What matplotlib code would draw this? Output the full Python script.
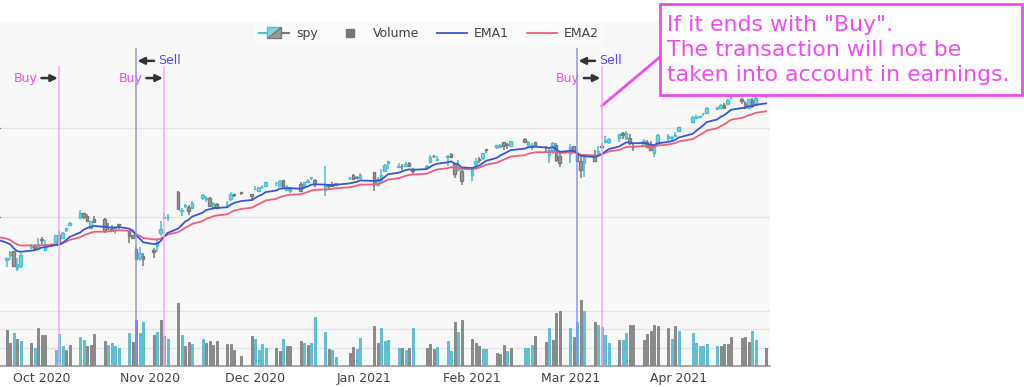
import matplotlib
matplotlib.use("Agg")
import matplotlib.pyplot as plt
import matplotlib.dates as mdates
import matplotlib.transforms as mtransforms
from matplotlib.legend_handler import HandlerBase
from matplotlib.lines import Line2D
from matplotlib.patches import Polygon, Rectangle
import numpy as np
import pandas as pd

plt.rcParams['font.family'] = ['DejaVu Sans']

# trading days shown on the chart
dates = (["2020-09-%02d" % d for d in (21, 22, 23, 24, 25, 28, 29, 30)]
         + ["2020-10-%02d" % d for d in (1, 2, 5, 6, 7, 8, 9, 12, 13, 14, 15, 16, 19, 20, 21, 22, 23, 26, 27, 28, 29, 30)]
         + ["2020-11-%02d" % d for d in (2, 3, 4, 5, 6, 9, 10, 11, 12, 13, 16, 17, 18, 19, 20, 23, 24, 25, 27, 30)]
         + ["2020-12-%02d" % d for d in (1, 2, 3, 4, 7, 8, 9, 10, 11, 14, 15, 16, 17, 18, 21, 22, 23, 24, 28, 29, 30, 31)]
         + ["2021-01-%02d" % d for d in (4, 5, 6, 7, 8, 11, 12, 13, 14, 15, 19, 20, 21, 22, 25, 26, 27, 28, 29)]
         + ["2021-02-%02d" % d for d in (1, 2, 3, 4, 5, 8, 9, 10, 11, 12, 16, 17, 18, 19, 22, 23, 24, 25, 26)]
         + ["2021-03-%02d" % d for d in (1, 2, 3, 4, 5, 8, 9, 10, 11, 12, 15, 16, 17, 18, 19, 22, 23, 24, 25, 26, 29, 30, 31)]
         + ["2021-04-%02d" % d for d in (1, 5, 6, 7, 8, 9, 12, 13, 14, 15, 16, 19, 20, 21, 22, 23, 26)])

opens = [325.70, 328.57, 330.90, 321.22, 322.58, 333.22, 333.97, 333.09,
         337.69, 331.70, 336.06, 339.91, 338.12, 342.85, 345.56, 349.59, 352.28, 350.75, 343.71,
         348.96, 348.65, 343.46, 343.33, 342.96, 345.93, 342.13, 339.76, 332.10, 326.91, 328.28,
         331.32, 333.69, 340.86, 349.24, 349.93, 363.97, 353.49, 356.40, 355.58, 355.27,
         360.98, 359.97, 360.91, 355.60, 357.50, 357.28, 360.21, 363.13, 363.84, 362.83,
         365.57, 364.82, 366.68, 367.32, 369.02, 367.72, 370.88, 365.37, 364.90, 368.64, 367.40,
         369.82, 371.94, 370.97, 364.97, 368.21, 368.28, 368.08, 371.74, 373.81, 372.34, 371.78,
         375.31, 368.10, 369.71, 376.10, 380.59, 377.85, 378.89, 378.69, 380.59, 376.72,
         378.34, 381.11, 384.49, 382.25, 383.67, 385.41, 380.22, 376.36, 375.63,
         373.72, 379.65, 382.44, 382.96, 388.20, 389.27, 389.61, 392.12, 391.24, 389.85,
         393.96, 390.42, 389.59, 392.07, 387.06, 384.66, 386.33, 390.41, 384.35,
         385.59, 389.82, 385.79, 381.22, 380.46, 384.66, 385.85, 389.69, 392.23, 392.07, 394.33, 397.07,
         394.53, 394.48, 389.88, 390.03, 391.91, 391.00, 385.98, 390.93, 394.40, 394.42, 395.34,
         398.40, 403.46, 405.76, 405.94, 408.39, 408.39, 410.85, 411.53, 412.83,
         413.74, 417.25, 416.26, 413.91, 411.51, 415.89, 412.87, 417.44]
highs = [327.13, 330.90, 331.20, 326.80, 329.58, 334.96, 334.77, 338.29,
         338.74, 337.01, 339.96, 342.17, 341.63, 343.85, 347.35, 354.02, 352.47, 351.93, 348.02,
         350.75, 349.33, 346.88, 345.67, 345.24, 345.99, 342.98, 340.12, 332.84, 333.40, 329.69,
         332.36, 338.25, 347.94, 352.19, 351.51, 364.38, 355.18, 357.56, 356.72, 358.90,
         362.78, 361.92, 361.50, 358.18, 357.72, 358.82, 363.81, 363.16, 364.18, 363.12,
         367.68, 366.96, 368.19, 369.85, 369.62, 370.78, 371.05, 367.86, 366.74, 369.80, 369.59,
         371.16, 372.46, 371.15, 378.46, 368.33, 369.62, 369.03, 372.59, 374.00, 373.10, 374.66,
         375.45, 372.50, 376.98, 379.90, 381.49, 380.58, 379.86, 380.86, 381.13, 377.58,
         379.23, 384.79, 384.95, 384.13, 384.77, 385.85, 380.32, 381.93, 376.67,
         377.34, 383.22, 383.70, 386.24, 388.47, 390.56, 390.89, 392.28, 391.69, 392.90,
         394.17, 392.66, 391.52, 392.38, 390.11, 388.76, 392.23, 391.88, 385.58,
         390.92, 390.07, 386.83, 384.00, 384.76, 387.68, 389.91, 391.40, 395.65, 394.21, 396.69, 397.83,
         398.12, 396.72, 391.57, 394.07, 393.46, 392.75, 390.55, 396.41, 396.75, 395.45, 398.00,
         400.67, 406.94, 407.24, 406.96, 408.58, 411.67, 411.93, 413.53, 413.96,
         416.16, 417.91, 416.74, 415.09, 416.29, 416.78, 418.25, 418.22]
lows = [321.73, 325.86, 322.10, 319.80, 321.64, 332.15, 331.63, 332.88,
        335.01, 331.19, 336.01, 334.38, 338.12, 341.86, 344.89, 349.06, 349.09, 347.14, 343.13,
        347.10, 341.04, 342.64, 342.40, 340.65, 343.13, 335.62, 337.99, 326.13, 325.09, 322.60,
        327.24, 330.29, 339.59, 348.86, 347.65, 354.06, 350.51, 355.06, 351.26, 354.71,
        359.59, 358.34, 356.24, 354.15, 355.25, 354.87, 359.29, 361.20, 362.58, 359.17,
        364.93, 364.20, 365.50, 367.22, 367.72, 367.67, 365.95, 364.43, 363.26, 364.47, 365.92,
        368.87, 371.05, 367.02, 362.03, 366.03, 367.22, 367.45, 371.07, 370.83, 371.57, 371.23,
        364.82, 368.05, 369.12, 375.91, 377.10, 377.72, 376.36, 377.85, 378.10, 373.70,
        376.75, 380.69, 383.25, 381.84, 378.46, 383.54, 372.01, 375.89, 368.27,
        370.38, 376.32, 380.48, 381.97, 386.14, 388.35, 389.17, 387.50, 388.10, 389.77,
        391.53, 389.33, 387.74, 389.55, 386.86, 380.20, 385.27, 380.78, 378.23,
        380.57, 386.00, 381.31, 371.88, 372.64, 381.42, 385.31, 388.17, 391.74, 391.20, 392.03, 394.11,
        393.30, 390.75, 387.15, 389.97, 388.66, 387.47, 383.90, 390.29, 392.81, 392.87, 395.31,
        398.18, 403.38, 405.40, 405.45, 406.93, 408.26, 410.20, 411.12, 410.87,
        413.69, 415.73, 413.79, 410.59, 411.36, 411.13, 412.79, 416.81]
closes = [326.97, 330.30, 322.64, 323.50, 328.73, 334.19, 332.37, 334.89,
          337.04, 333.84, 339.76, 334.93, 340.76, 343.78, 346.85, 352.43, 350.13, 347.93, 347.50,
          347.29, 342.01, 343.38, 342.73, 344.61, 345.78, 339.39, 338.22, 326.66, 329.98, 326.54,
          330.20, 336.03, 343.54, 350.24, 350.16, 354.56, 354.04, 356.67, 353.21, 358.10,
          362.57, 360.62, 356.28, 357.78, 355.33, 357.46, 363.22, 362.66, 363.67, 362.06,
          366.02, 366.79, 366.69, 369.85, 369.09, 370.17, 366.85, 366.73, 366.30, 364.66, 369.59,
          370.17, 372.24, 369.18, 367.86, 367.24, 367.57, 369.00, 372.17, 371.46, 371.99, 373.88,
          368.79, 371.33, 373.55, 379.10, 381.26, 378.69, 378.77, 379.79, 378.46, 375.70,
          378.65, 383.89, 384.24, 382.88, 384.39, 383.79, 374.41, 377.63, 370.07,
          376.23, 381.55, 381.85, 386.19, 387.71, 390.51, 390.25, 390.08, 390.71, 392.64,
          392.30, 392.39, 390.72, 390.03, 387.03, 387.50, 391.77, 382.33, 380.36,
          389.58, 386.54, 381.42, 376.70, 383.63, 381.72, 387.17, 389.58, 393.53, 394.06, 396.41, 395.91,
          397.26, 391.48, 389.48, 392.59, 389.50, 387.52, 389.70, 395.98, 395.78, 394.73, 396.33,
          400.61, 406.36, 406.12, 406.59, 408.52, 411.49, 411.64, 412.86, 411.45,
          415.87, 417.26, 415.21, 412.17, 416.07, 412.27, 416.74, 417.61]

# volume in millions of shares, and whether the bar is drawn in the "up" colour
volume = [98, 62, 91, 75, 69, 63, 50, 103,
          86, 86, 44, 87, 55, 44, 58, 79, 72, 56, 58, 88, 67, 58, 63, 55, 48, 90, 65, 125, 89, 119,
          85, 92, 125, 81, 74, 171, 84, 55, 66, 61, 73, 64, 68, 57, 69, 61, 61, 43, 27, 82,
          73, 44, 61, 49, 48, 40, 73, 55, 55, 68, 62, 57, 62, 134, 94, 46, 44, 25, 36, 51, 47, 76,
          108, 64, 105, 67, 71, 50, 50, 44, 48, 105, 49, 60, 46, 51, 68, 41, 121, 92, 125,
          75, 63, 55, 46, 46, 36, 32, 57, 41, 50, 50, 50, 57, 82, 66, 105, 71, 144, 150,
          105, 80, 119, 181, 151, 120, 112, 107, 84, 63, 72, 72, 89, 113, 111, 72, 87, 95, 113, 110, 105, 74, 110,
          97, 89, 63, 55, 55, 59, 55, 55, 59, 59, 80, 77, 80, 65, 95, 71, 50]
vol_up = [0, 0, 1, 0, 1, 0, 1, 0,
          0, 0, 1, 1, 1, 0, 0, 1, 1, 0, 0, 0, 0, 1, 1, 1, 1, 1, 0, 0, 1, 1,
          0, 1, 0, 1, 1, 0, 1, 0, 0, 1, 1, 0, 0, 0, 0, 0, 0, 0, 0, 0,
          1, 1, 1, 1, 0, 0, 1, 0, 0, 0, 1, 0, 1, 1, 1, 0, 1, 1, 0, 0, 1, 1,
          0, 0, 1, 1, 1, 1, 0, 1, 0, 1, 0, 0, 0, 1, 1, 1, 0, 1, 0,
          0, 0, 0, 1, 1, 0, 0, 0, 1, 0, 1, 1, 1, 0, 0, 1, 0, 0, 0,
          1, 0, 1, 0, 1, 0, 1, 1, 1, 1, 0, 1, 1, 0, 0, 0, 0, 0, 0, 0, 0, 1, 0,
          1, 1, 1, 1, 1, 1, 1, 0, 0, 0, 0, 0, 0, 0, 1, 1, 0]

# earlier closes, off screen, only used to warm up the moving averages
warm_dates = ["2020-08-%02d" % d for d in (3, 4, 5, 6, 7, 10, 11, 12, 13, 14, 17, 18, 19, 20, 21, 24, 25, 26, 27, 28, 31)] \
    + ["2020-09-%02d" % d for d in (1, 2, 3, 4, 8, 9, 10, 11, 14, 15, 16, 17, 18)]
warm_close = [328.79, 330.06, 332.11, 334.33, 334.57, 335.57, 332.80, 337.44, 336.83, 336.84, 337.91,
              338.64, 337.23, 338.28, 339.48, 342.92, 344.12, 347.57, 348.33, 350.58, 349.31,
              352.60, 357.70, 345.39, 342.57, 333.21, 339.79, 333.89, 334.06, 338.46, 340.17,
              338.82, 335.84, 330.65]

buy_dates = ["2020-10-06", "2020-11-05", "2021-03-10"]
sell_dates = ["2020-10-28", "2021-03-03"]
note = 'If it ends with "Buy".\nThe transaction will not be\ntaken into account in earnings.'

UP, DOWN = '#4dbfd0', '#7a7a7a'
UP_FILL, DOWN_FILL = '#86d2de', '#9c9c9c'
MAG = '#ee4cee'

W, H = 1024, 387
fig = plt.figure(figsize=(W / 100, H / 100), dpi=100)
ax = fig.add_axes([0, 21 / H, 770 / W, 344 / H])
ax.set_facecolor('#f8f8f8')

x = mdates.date2num(pd.to_datetime(dates))
o, hi, lo, c = map(np.array, (opens, highs, lows, closes))
up = c >= o
line_col = np.where(up, UP, DOWN)
fill_col = np.where(up, UP_FILL, DOWN_FILL)
ax.vlines(x, lo, hi, colors=line_col, lw=1.1, zorder=3)
ax.bar(x, np.abs(c - o), bottom=np.minimum(o, c), width=0.72, color=fill_col,
       edgecolor=line_col, lw=1.0, zorder=4)

all_x = mdates.date2num(pd.to_datetime(warm_dates + dates))
s = pd.Series(warm_close + closes)
ema1 = s.ewm(span=10, adjust=False).mean()
ema2 = s.ewm(span=20, adjust=False).mean()
ax.plot(all_x, ema2, color='#f0607a', lw=1.3, zorder=5)
ax.plot(all_x, ema1, color='#3a56d4', lw=1.3, zorder=6)

ax.set_ylim(266.3, 459.6)
ax.set_yticks([350, 400])
ax.yaxis.grid(True, color='#e4e4e4', lw=1)
ax.set_axisbelow(True)
ax.tick_params(axis='y', left=False, labelleft=False)

x_left = pd.Timestamp("2020-09-19 02:04")
ax.set_xlim(mdates.date2num(x_left), mdates.date2num(x_left + pd.Timedelta(days=220)))
ax.xaxis.set_major_locator(mdates.MonthLocator())
ax.xaxis.set_major_formatter(mdates.DateFormatter('%b %Y'))
ax.tick_params(axis='x', length=0, pad=4, labelsize=9, labelcolor='#444444')
for sp in ('top', 'right', 'left'):
    ax.spines[sp].set_visible(False)
ax.spines['bottom'].set_color('#999999')
ax.spines['bottom'].set_linewidth(1.2)

# volume on its own scale
ax2 = ax.twinx()
ax2.set_ylim(0, 940)
ax2.set_yticks([50, 100, 150])
ax2.yaxis.grid(True, color='#e4e4e4', lw=1)
ax2.set_axisbelow(True)
ax2.tick_params(axis='y', right=False, labelright=False)
for sp in ax2.spines.values():
    sp.set_visible(False)
vflag = np.array(vol_up) == 1
ax2.bar(x, volume, width=0.55, color=np.where(vflag, '#5cc4d5', '#8c8c8c'),
        edgecolor=np.where(vflag, '#45b0c1', '#727272'), lw=0.5, zorder=2)

trans = mtransforms.blended_transform_factory(ax2.transData, ax2.transAxes)
for d in buy_dates:
    xd = mdates.date2num(pd.Timestamp(d))
    ax2.plot([xd, xd], [0, 0.869], transform=trans, color='#f4a6f4', lw=1.3, alpha=0.8, zorder=5)
    ax2.annotate('Buy', xy=(xd, 0.837), xycoords=trans, xytext=(-22, 0), textcoords='offset pixels',
                 ha='right', va='center', fontsize=9, color=MAG,
                 arrowprops=dict(arrowstyle='-|>', color='#333333', lw=1.8, shrinkA=1, shrinkB=1,
                                 mutation_scale=10))
for d in sell_dates:
    xd = mdates.date2num(pd.Timestamp(d))
    ax2.plot([xd, xd], [0, 0.921], transform=trans, color='#8c8cff', lw=1.3, alpha=0.8, zorder=5)
    ax2.annotate('Sell', xy=(xd, 0.887), xycoords=trans, xytext=(22, 0), textcoords='offset pixels',
                 ha='left', va='center', fontsize=9, color='#4d4dff',
                 arrowprops=dict(arrowstyle='-|>', color='#333333', lw=1.8, shrinkA=1, shrinkB=1,
                                 mutation_scale=10))


class CandleIcon(HandlerBase):
    def create_artists(self, legend, orig_handle, xd, yd, w, h, fontsize, trans):
        x0, y0 = -xd, -yd
        ym = y0 + h / 2
        bl, br = x0 + w * 0.28, x0 + w * 0.75
        bb, bt = y0 - h * 0.15, y0 + h * 1.15
        arts = [Line2D([x0, bl], [ym, ym], color=UP, lw=1.5),
                Line2D([br, x0 + w], [ym, ym], color=DOWN, lw=1.5),
                Polygon([[bl, bb], [bl, bt], [br, bt]], closed=True, fc=UP_FILL, ec=UP, lw=1),
                Polygon([[bl, bb], [br, bb], [br, bt]], closed=True, fc=DOWN_FILL, ec=DOWN, lw=1)]
        for a in arts:
            a.set_transform(trans)
        return arts


spy_handle = Rectangle((0, 0), 1, 1)
handles = [spy_handle,
           Line2D([], [], marker='s', ls='', color='#777777', ms=6),
           Line2D([], [], color='#3a56d4', lw=1.3),
           Line2D([], [], color='#f0607a', lw=1.3)]
leg = ax2.legend(handles, ['spy', 'Volume', 'EMA1', 'EMA2'], handler_map={spy_handle: CandleIcon()},
                 loc='upper center', bbox_to_anchor=(0.557, 1.0), ncol=4, frameon=True,
                 fontsize=9, labelcolor='#444444', handlelength=2.4, handletextpad=0.6,
                 columnspacing=1.4, borderaxespad=0, fancybox=False)
leg.get_frame().set_facecolor('#fdfdfd')
leg.get_frame().set_edgecolor('none')

# callout box
mar10 = mdates.date2num(pd.Timestamp(buy_dates[-1]))
ax2.annotate('', xy=(mar10, 0.756), xycoords=trans, xytext=(660, H - 57), textcoords='figure pixels',
             arrowprops=dict(arrowstyle='-', color=MAG, lw=2, shrinkA=0, shrinkB=0),
             annotation_clip=False)
fig.add_artist(Rectangle((660 / W, 1 - 95 / H), 362 / W, 91 / H, transform=fig.transFigure,
                         facecolor='white', edgecolor=MAG, lw=2, zorder=2))
fig.text(667 / W, 1 - 50 / H, note, ha='left', va='center', fontsize=15.8, color=MAG,
         linespacing=1.33, zorder=3)

fig.savefig('out.png', dpi=100)
